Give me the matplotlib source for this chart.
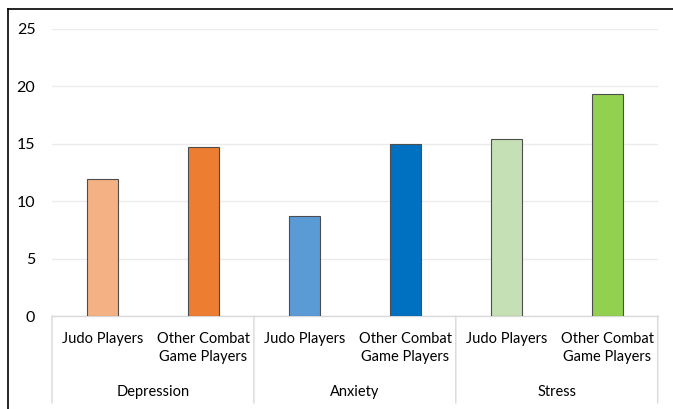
import matplotlib
matplotlib.use("Agg")
import matplotlib.pyplot as plt
from matplotlib.lines import Line2D

groups = ["Depression", "Anxiety", "Stress"]
sub_labels = ["Judo Players", "Other Combat\nGame Players"]
values = [11.9, 14.7, 8.7, 15.0, 15.4, 19.35]
colors = ["#F4B183", "#ED7D31", "#5B9BD5", "#0070C0", "#C5E0B4", "#92D050"]
yticks = [0, 5, 10, 15, 20, 25]

plt.rcParams['font.family'] = ['Lato', 'DejaVu Sans']

W, H = 673, 409
fig = plt.figure(figsize=(W / 100, H / 100), dpi=100)
ax = fig.add_axes([52 / W, 1 - 316 / H, (657.7 - 52) / W, (316 - 29) / H])

x = list(range(len(values)))
ax.bar(x, values, width=0.31, color=colors, edgecolor="#4D4D4D", linewidth=0.8, zorder=3)
ax.set_xlim(-0.5, len(values) - 0.5)
ax.set_ylim(0, 25)
ax.set_yticks(yticks)
ax.set_yticklabels([str(t) for t in yticks], fontsize=11.5, color="#000000")
ax.tick_params(axis="y", length=0, pad=12)
ax.tick_params(axis="x", length=0)
ax.set_xticks([])
ax.grid(axis="y", color="#EBEBEB", linewidth=1, zorder=0)
for s in ["top", "right", "left"]:
    ax.spines[s].set_visible(False)
ax.spines["bottom"].set_color("#D9D9D9")
ax.spines["bottom"].set_linewidth(1)

# sub category labels
for i in range(len(values)):
    lab = sub_labels[i % 2]
    ax.annotate(lab, xy=(i, 0), xycoords=("data", "axes fraction"),
                xytext=(0, -16), textcoords="offset pixels",
                ha="center", va="top", fontsize=10.5, linespacing=1.38)
# group labels and separators
for g, name in enumerate(groups):
    ax.annotate(name, xy=(2 * g + 0.5, 0), xycoords=("data", "axes fraction"),
                xytext=(0, -76), textcoords="offset pixels",
                ha="center", va="center", fontsize=10.5)
for b in [-0.5, 1.5, 3.5, 5.5]:
    ax.annotate("", xy=(b, 0), xycoords=("data", "axes fraction"),
                xytext=(b, -0.3035), textcoords=("data", "axes fraction"),
                arrowprops=dict(arrowstyle="-", color="#D9D9D9", lw=1,
                                shrinkA=0, shrinkB=0))

# screenshot border (top and left)
fig.add_artist(Line2D([7.5 / W, 1], [1 - 8.5 / H, 1 - 8.5 / H], color="black", lw=1.2))
fig.add_artist(Line2D([7.5 / W, 7.5 / W], [0, 1 - 8.5 / H], color="black", lw=1.2))

fig.savefig("out.png", dpi=100)
